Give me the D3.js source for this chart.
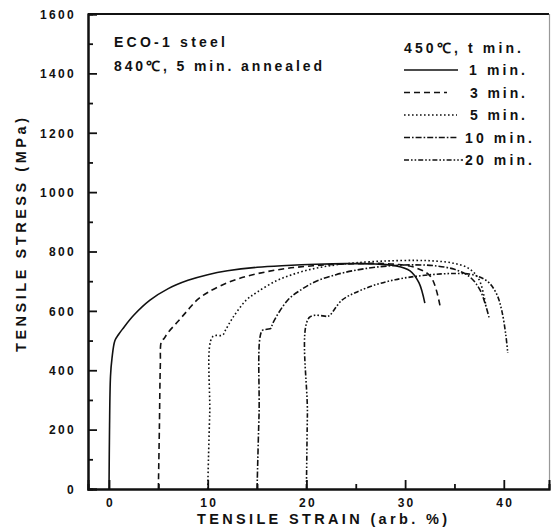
<!DOCTYPE html>
<html>
<head>
<meta charset="utf-8">
<script src="https://cdn.jsdelivr.net/npm/d3@7"></script>
<style>
  html, body { margin: 0; padding: 0; background: #fff; }
  svg { display: block; font-family: "Liberation Sans", Arial, sans-serif; }
  text { font-weight: bold; fill: #111; }
</style>
</head>
<body>
<svg id="chart" width="552" height="531"></svg>
<script>
// Tensile stress–strain curves, ECO-1 steel aged at 450 °C for various times.
// Each curve is offset by 5 % strain (arb. units).

const yMajorTicks = [0, 200, 400, 600, 800, 1000, 1200, 1400, 1600];
const yMinorTicks = [100, 300, 500, 700, 900, 1100, 1300, 1500];
const xMajorTicks = [0, 10, 20, 30, 40];
const xMinorTicks = [5, 15, 25, 35];

const seriesNames = ["1 min.", "3 min.", "5 min.", "10 min.", "20 min."];

// [strain %, stress MPa]
const curve1min = [
  [0, 0], [0.05, 200], [0.15, 380], [0.3, 440], [0.6, 500], [1.0, 522], [1.4, 540],
  [2.5, 585], [4.15, 636], [6, 675], [8, 703], [10, 722], [12, 735], [15, 747],
  [18, 753], [21, 757], [24, 759], [27, 758], [29, 752], [30.5, 735], [31.4, 695], [32.0, 626]
];
const curve3min = [
  [5.0, 0], [5.1, 200], [5.2, 420], [5.3, 496], [5.6, 508], [6, 528], [7, 565],
  [8, 603], [8.9, 636], [10, 662], [12, 695], [14, 717], [16, 732], [18, 743],
  [20, 750], [22, 755], [25, 759], [27, 760], [29, 757], [31, 746], [32.6, 715], [33.6, 606]
];
const curve5min = [
  [10.0, 0], [10.2, 250], [10.5, 513], [11.5, 518], [11.8, 535], [12.5, 575],
  [13.9, 636], [15, 663], [17, 702], [19, 727], [21, 744], [23, 755], [25, 762],
  [28, 768], [31, 770], [33, 768], [35, 760], [36.5, 742], [37.5, 705], [38.2, 615]
];
const curve10min = [
  [15.0, 0], [15.2, 250], [15.5, 533], [16.0, 538], [16.4, 541], [16.6, 559],
  [18.1, 636], [19.5, 672], [21, 700], [23, 722], [25, 737], [27, 747], [29, 753],
  [31, 755], [33, 752], [35, 740], [36.5, 716], [37.6, 670], [38.5, 578]
];
const curve20min = [
  [20.0, 0], [20.1, 250], [20.3, 578], [22.2, 582], [22.4, 586], [23.6, 636],
  [25, 662], [27, 688], [29, 705], [31, 716], [33, 723], [35, 726], [36.5, 724],
  [37.5, 715], [38.5, 695], [39.3, 655], [39.8, 600], [40.2, 520], [40.4, 458]
];

const curves = [curve1min, curve3min, curve5min, curve10min, curve20min];
const dashes = [null, "6,4", "1.6,2.4", "6,2,1.6,2", "5,2,1.6,2,1.6,2"];

const svg = d3.select("#chart");

const x = d3.scaleLinear().domain([-2.13, 44.58]).range([88, 549]);
const y = d3.scaleLinear().domain([0, 1600]).range([489, 14]);

// Frame: left, bottom, top solid; right edge faint
svg.append("line").attr("x1", 88).attr("x2", 549).attr("y1", 14).attr("y2", 14)
  .attr("stroke", "#111").attr("stroke-width", 2);
svg.append("line").attr("x1", 549.5).attr("x2", 549.5).attr("y1", 14).attr("y2", 489)
  .attr("stroke", "#999").attr("stroke-width", 1.2);

// Y axis (ticks point inward)
const yAxis = svg.append("g").attr("transform", "translate(88,0)")
  .call(d3.axisLeft(y).tickValues(yMajorTicks).tickSize(-9).tickPadding(12).tickFormat(d3.format("d")));
svg.append("g").attr("transform", "translate(88,0)")
  .call(d3.axisLeft(y).tickValues(yMinorTicks).tickSize(-5).tickFormat(""));

// X axis (ticks point inward)
const xAxis = svg.append("g").attr("transform", "translate(0,489)")
  .call(d3.axisBottom(x).tickValues(xMajorTicks).tickSize(-9).tickPadding(9).tickFormat(d3.format("d")));
svg.append("g").attr("transform", "translate(0,489)")
  .call(d3.axisBottom(x).tickValues(xMinorTicks).tickSize(-5).tickFormat(""));

svg.selectAll(".domain").attr("stroke", "#111").attr("stroke-width", 2);
svg.selectAll(".tick line").attr("stroke", "#111").attr("stroke-width", 1.8);
svg.selectAll(".tick text")
  .style("font-family", "'Liberation Sans', Arial, sans-serif")
  .style("font-weight", "bold")
  .style("font-size", "12px")
  .style("letter-spacing", "2.3px")
  .attr("fill", "#111");
yAxis.selectAll(".tick text").attr("dy", "0.36em");
xAxis.selectAll(".tick text").attr("dx", "1px");

// Curves
const line = d3.line()
  .x(d => x(d[0]))
  .y(d => y(d[1]))
  .curve(d3.curveCatmullRom.alpha(0.5));

svg.append("g").selectAll("path")
  .data(curves)
  .join("path")
  .attr("d", line)
  .attr("fill", "none")
  .attr("stroke", "#111")
  .attr("stroke-width", 1.6)
  .attr("stroke-dasharray", (d, i) => dashes[i]);

// Axis titles
svg.append("text")
  .attr("x", 197).attr("y", 524)
  .attr("textLength", 250).attr("lengthAdjust", "spacing")
  .style("font-size", "14.5px")
  .text("TENSILE  STRAIN (arb. %)");

svg.append("text")
  .attr("transform", "translate(26,352) rotate(-90)")
  .attr("x", 0).attr("y", 0)
  .attr("textLength", 234).attr("lengthAdjust", "spacing")
  .style("font-size", "14.5px")
  .text("TENSILE  STRESS (MPa)");

// Annotation
svg.append("text").attr("x", 114).attr("y", 47)
  .attr("textLength", 111).attr("lengthAdjust", "spacing")
  .style("font-size", "14px").text("ECO-1 steel");
svg.append("text").attr("x", 114).attr("y", 71)
  .attr("textLength", 208).attr("lengthAdjust", "spacing")
  .style("font-size", "14px").text("840℃, 5 min. annealed");

// Legend
svg.append("text").attr("x", 404).attr("y", 53)
  .attr("textLength", 117).attr("lengthAdjust", "spacing")
  .style("font-size", "14px").text("450℃, t min.");

const legendLineEnd = [458, 447, 457, 457, 463];
const legendTextX = [469, 470, 470, 465, 465];
const legendTextLen = [56, 55, 55, 67, 67];
const legend = svg.append("g").selectAll("g")
  .data(seriesNames)
  .join("g")
  .attr("transform", (d, i) => `translate(0,${70 + i * 22.5})`);
legend.append("line")
  .attr("x1", 404).attr("x2", (d, i) => legendLineEnd[i])
  .attr("y1", 0).attr("y2", 0)
  .attr("stroke", "#111").attr("stroke-width", 1.5)
  .attr("stroke-dasharray", (d, i) => dashes[i]);
legend.append("text")
  .attr("x", (d, i) => legendTextX[i]).attr("y", 5)
  .attr("textLength", (d, i) => legendTextLen[i]).attr("lengthAdjust", "spacing")
  .style("font-size", "14px")
  .text(d => d);
</script>
</body>
</html>
